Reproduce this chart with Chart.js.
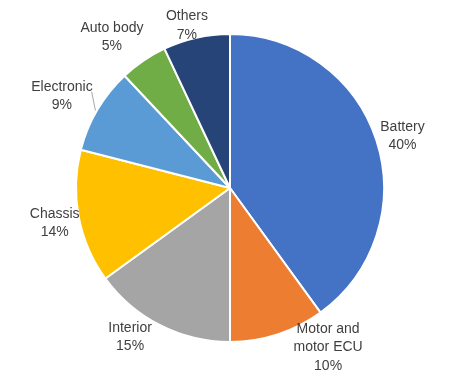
<!DOCTYPE html>
<html>
<head>
<meta charset="utf-8">
<script src="https://cdn.jsdelivr.net/npm/chart.js@4.4.1/dist/chart.umd.min.js"></script>
<style>
  html, body { margin: 0; padding: 0; background: #ffffff; }
  #wrap { width: 462px; height: 378px; position: relative; }
</style>
</head>
<body>
<div id="wrap"><canvas id="c" width="462" height="378"></canvas></div>
<script>
// ---- data ----
const categories = ["Battery", "Motor and motor ECU", "Interior", "Chassis", "Electronic", "Auto body", "Others"];
const labelLines = [["Battery"], ["Motor and", "motor ECU"], ["Interior"], ["Chassis"], ["Electronic"], ["Auto body"], ["Others"]];
const shares = [40, 10, 15, 14, 9, 5, 7];

// ---- styles ----
const colors = ["#4472C4", "#ED7D31", "#A5A5A5", "#FFC000", "#5B9BD5", "#70AD47", "#264478"];
// label block offset from the slice's outer mid-point (px)
const labelOffsets = [[26, -4.5], [50.5, 13], [-30, 12], [-24, 6.5], [-35.5, -13.5], [-31.5, -23.5], [-9.5, -12]];
const leaderLine = [false, false, false, false, true, false, false];
const FONT = "14px 'Liberation Sans', Arial, sans-serif";
const LINE_H = 18.5;

const labelPlugin = {
  id: 'outsideLabels',
  afterDatasetsDraw(chart) {
    const ctx = chart.ctx;
    const meta = chart.getDatasetMeta(0);
    const total = shares.reduce((a, b) => a + b, 0);
    ctx.save();
    ctx.font = FONT;
    ctx.fillStyle = '#3f3f3f';
    ctx.textAlign = 'center';
    ctx.textBaseline = 'middle';
    meta.data.forEach((arc, i) => {
      const p = arc.getProps(['x', 'y', 'startAngle', 'endAngle', 'outerRadius'], true);
      const mid = (p.startAngle + p.endAngle) / 2;
      const ex = p.x + Math.cos(mid) * p.outerRadius;
      const ey = p.y + Math.sin(mid) * p.outerRadius;
      const lines = labelLines[i].concat([Math.round(shares[i] / total * 100) + '%']);
      const cx = ex + labelOffsets[i][0];
      const cy = ey + labelOffsets[i][1];
      const top = cy - (lines.length - 1) * LINE_H / 2;
      lines.forEach((t, k) => ctx.fillText(t, cx, top + k * LINE_H));
      if (leaderLine[i]) {
        const w = Math.max(...lines.map(t => ctx.measureText(t).width));
        ctx.strokeStyle = '#A6A6A6';
        ctx.lineWidth = 1;
        ctx.beginPath();
        ctx.moveTo(cx + w / 2 - 1, top + 5);
        ctx.lineTo(ex - 2, ey + 1);
        ctx.stroke();
      }
    });
    ctx.restore();
  }
};

new Chart(document.getElementById('c'), {
  type: 'pie',
  data: {
    labels: categories,
    datasets: [{
      data: shares,
      backgroundColor: colors,
      borderColor: '#ffffff',
      borderWidth: 2
    }]
  },
  options: {
    responsive: false,
    animation: false,
    layout: { padding: { left: 75, right: 77, top: 33, bottom: 35 } },
    plugins: {
      legend: { display: false },
      tooltip: { enabled: false }
    }
  },
  plugins: [labelPlugin]
});
</script>
</body>
</html>
